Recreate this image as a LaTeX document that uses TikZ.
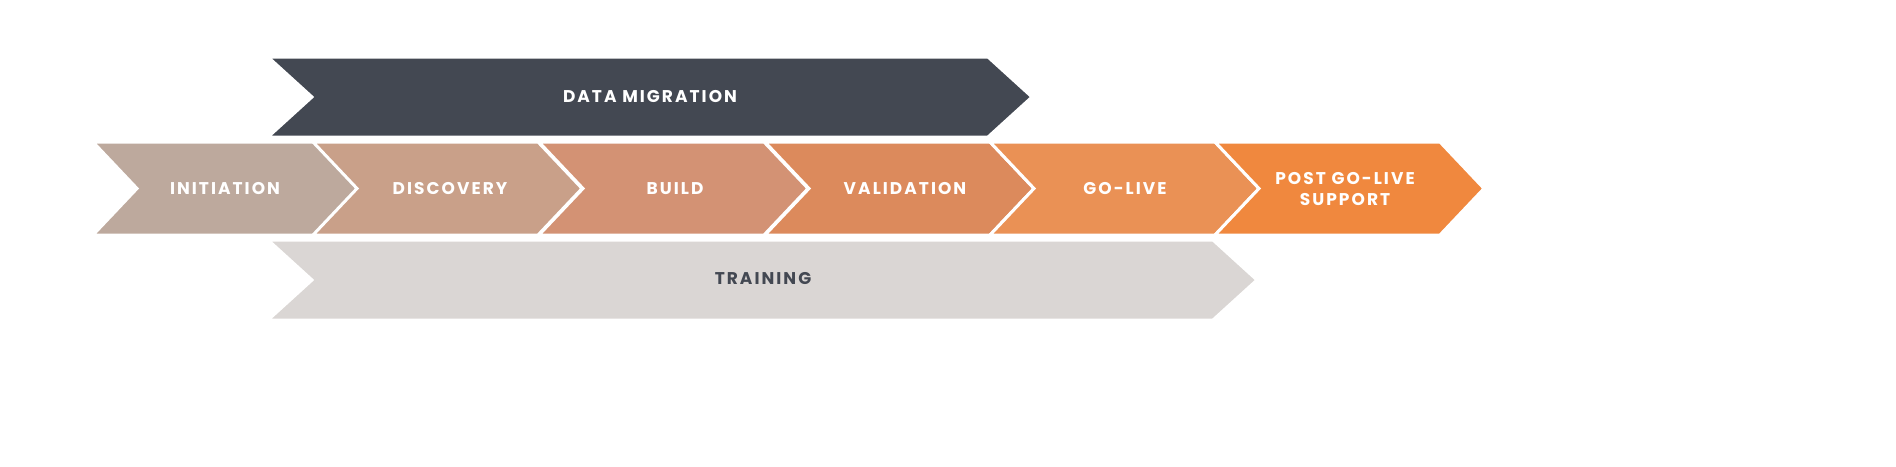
\documentclass[tikz,border=0pt]{standalone}
\usepackage{fontspec}
\setmainfont{Poppins}[LetterSpace=12]
\definecolor{cinit}{HTML}{BDA99D}
\definecolor{cdisc}{HTML}{C9A089}
\definecolor{cbuild}{HTML}{D39274}
\definecolor{cvalid}{HTML}{DC8A5C}
\definecolor{cgolive}{HTML}{EA9155}
\definecolor{cpost}{HTML}{F0883E}
\definecolor{cdata}{HTML}{434852}
\definecolor{ctrain}{HTML}{DAD6D4}
\newcommand{\chev}[6]{% x, top, bottom, body width, tip, colour
  \filldraw[fill=#6,draw=white,line width=1.2pt,line join=miter]
    (#1,#2) -- ++(#4,0) -- ++(#5,{(#3-#2)/2}) -- (#1+#4,#3) -- (#1,#3) -- ++(#5,{-(#3-#2)/2}) -- cycle;}
\begin{document}
\begin{tikzpicture}
  [x=0.4pt,y=-0.4pt,every node/.style={font=\fontsize{6.8}{8.4}\selectfont\bfseries,text=white,align=center}]
  \chev{268}{57}{137}{720}{44}{cdata}
  \chev{268}{240}{320}{945}{44}{ctrain}
  \foreach \x/\c in {93/cinit,313/cdisc,539/cbuild,765/cvalid,990/cgolive,1215/cpost}
    {\chev{\x}{142}{235}{225}{44}{\c}}
  \node (data) at (650,97) {DATA MIGRATION};
  \node[text=cdata] (train) at (763,279) {TRAINING};
  \node (init) at (225,189) {INITIATION};
  \node (disc) at (450,189) {DISCOVERY};
  \node (build) at (675,189) {BUILD};
  \node (valid) at (905,189) {VALIDATION};
  \node (golive) at (1125,189) {GO-LIVE};
  \node (post) at (1345,189) {POST GO-LIVE\\SUPPORT};
  \pgfresetboundingbox
  \useasboundingbox (0,0) rectangle (1896,467);
\end{tikzpicture}
\end{document}
